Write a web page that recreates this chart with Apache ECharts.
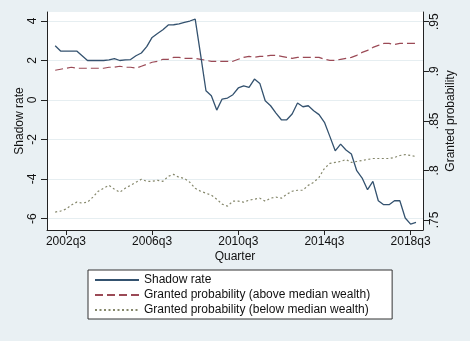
<!DOCTYPE html>
<html>
<head>
<meta charset="utf-8">
<script src="https://cdn.jsdelivr.net/npm/echarts@6/dist/echarts.min.js"></script>
<style>
  html, body { margin: 0; padding: 0; background: #e9f0f3; }
  #chart { width: 470px; height: 341px; }
</style>
</head>
<body>
<div id="chart"></div>
<script>
// Quarterly series, 2002q1 .. 2018q4
const firstYear = 2002;
const firstQuarter = 1;

const shadowRate = [
  2.75, 2.48, 2.48, 2.48, 2.48, 2.24, 2.00, 2.00, 2.00, 2.00,
  2.03, 2.10, 2.00, 2.03, 2.05, 2.24, 2.38, 2.70, 3.17, 3.37,
  3.56, 3.80, 3.81, 3.85, 3.93, 4.00, 4.10, 2.30, 0.47, 0.22,
  -0.51, 0.05, 0.10, 0.27, 0.61, 0.72, 0.64, 1.06, 0.84, -0.04,
  -0.29, -0.66, -1.00, -1.00, -0.71, -0.15, -0.34, -0.29, -0.54, -0.74,
  -1.13, -1.84, -2.57, -2.23, -2.53, -2.73, -3.58, -3.95, -4.54, -4.12,
  -5.10, -5.30, -5.30, -5.10, -5.10, -5.97, -6.28, -6.20
];

const grantedAbove = [
  0.901, 0.902, 0.903, 0.904, 0.903, 0.903, 0.903, 0.903, 0.903, 0.903,
  0.904, 0.904, 0.905, 0.904, 0.904, 0.903, 0.905, 0.907, 0.909, 0.910,
  0.912, 0.912, 0.914, 0.914, 0.913, 0.913, 0.913, 0.912, 0.911, 0.910,
  0.910, 0.910, 0.910, 0.910, 0.912, 0.914, 0.915, 0.914, 0.915, 0.915,
  0.916, 0.916, 0.915, 0.914, 0.913, 0.914, 0.914, 0.914, 0.914, 0.914,
  0.912, 0.911, 0.911, 0.912, 0.913, 0.914, 0.916, 0.919, 0.921, 0.924,
  0.926, 0.928, 0.928, 0.927, 0.928, 0.928, 0.928, 0.928
];

const grantedBelow = [
  0.758, 0.759, 0.761, 0.765, 0.768, 0.767, 0.768, 0.773, 0.779, 0.782,
  0.785, 0.781, 0.778, 0.782, 0.785, 0.788, 0.791, 0.789, 0.789, 0.790,
  0.789, 0.794, 0.796, 0.793, 0.792, 0.788, 0.782, 0.779, 0.777, 0.775,
  0.771, 0.766, 0.764, 0.769, 0.769, 0.768, 0.770, 0.771, 0.772, 0.769,
  0.772, 0.773, 0.772, 0.776, 0.779, 0.780, 0.780, 0.785, 0.788, 0.793,
  0.802, 0.807, 0.808, 0.809, 0.811, 0.808, 0.809, 0.810, 0.811, 0.812,
  0.812, 0.812, 0.812, 0.813, 0.815, 0.816, 0.815, 0.814
];

const xTickLabels = ['2002q3', '2006q3', '2010q3', '2014q3', '2018q3'];
const leftTicks = [-6, -4, -2, 0, 2, 4];
const rightTicks = [0.75, 0.8, 0.85, 0.9, 0.95];

// quarter index (0 = first quarter of the data) <-> "YYYYqN"
function labelToIndex(s) {
  const y = parseInt(s.slice(0, 4), 10);
  const q = parseInt(s.slice(5), 10);
  return (y - firstYear) * 4 + (q - firstQuarter);
}
function indexToLabel(i) {
  const k = Math.round(i) + (firstQuarter - 1);
  return (firstYear + Math.floor(k / 4)) + 'q' + ((k % 4) + 1);
}
const xTickIdx = xTickLabels.map(labelToIndex);
const pairs = arr => arr.map((v, i) => [i, v]);

const font = 'Liberation Sans, Arial, Helvetica, sans-serif';
const txt = { color: '#111', fontFamily: font, fontSize: 12 };
const axisLineStyle = { color: '#222', width: 1 };

const chart = echarts.init(document.getElementById('chart'), null, { renderer: 'canvas' });
chart.setOption({
  backgroundColor: '#e9f0f3',
  animation: false,
  grid: {
    left: 47, right: 47, top: 12, bottom: 111,
    show: true, backgroundColor: '#ffffff', borderWidth: 0,
    containLabel: false
  },
  legend: {
    orient: 'vertical',
    left: 88, top: 270,
    padding: [4, 22, 3, 6],
    itemWidth: 44, itemHeight: 14, itemGap: 3,
    backgroundColor: '#ffffff',
    borderColor: '#333', borderWidth: 1, borderRadius: 0,
    itemStyle: { opacity: 0 },
    textStyle: { ...txt },
    data: [
      'Shadow rate',
      'Granted probability (above median wealth)',
      'Granted probability (below median wealth)'
    ]
  },
  xAxis: {
    type: 'value',
    min: -1.52, max: 68.3,
    name: 'Quarter', nameLocation: 'middle', nameGap: 21, nameMoveOverlap: false,
    nameTextStyle: { ...txt },
    axisLine: { show: true, onZero: false, lineStyle: axisLineStyle },
    axisTick: { show: true, length: 5, lineStyle: axisLineStyle, customValues: xTickIdx },
    axisLabel: { ...txt, margin: 6, customValues: xTickIdx, formatter: v => indexToLabel(v) },
    splitLine: { show: false }
  },
  yAxis: [
    {
      type: 'value', position: 'left',
      min: -6.58, max: 4.456,
      name: 'Shadow rate', nameLocation: 'middle', nameRotate: 90, nameGap: 21,
      nameMoveOverlap: false,
      nameTextStyle: { ...txt },
      axisLine: { show: true, onZero: false, lineStyle: axisLineStyle },
      axisTick: { show: true, length: 6, lineStyle: axisLineStyle, customValues: leftTicks },
      axisLabel: { ...txt, rotate: 90, margin: 8, customValues: leftTicks,
        formatter: v => String(Math.round(v)) },
      splitLine: { show: true, lineStyle: { color: '#e6eef1', width: 1 } }
    },
    {
      type: 'value', position: 'right',
      min: 0.7399, max: 0.9597,
      name: 'Granted probability', nameLocation: 'middle', nameRotate: 90, nameGap: 22,
      nameMoveOverlap: false,
      nameTextStyle: { ...txt },
      axisLine: { show: true, onZero: false, lineStyle: axisLineStyle },
      axisTick: { show: true, length: 6, lineStyle: axisLineStyle, customValues: rightTicks },
      axisLabel: { ...txt, rotate: 90, margin: 6, customValues: rightTicks,
        formatter: v => String(+v.toFixed(2)).replace(/^0/, '') },
      splitLine: { show: false }
    }
  ],
  series: [
    {
      name: 'Shadow rate', type: 'line', yAxisIndex: 0,
      data: pairs(shadowRate), symbol: 'none', z: 3,
      lineStyle: { color: '#34526f', width: 1.3 },
      itemStyle: { color: '#34526f' }
    },
    {
      name: 'Granted probability (above median wealth)', type: 'line', yAxisIndex: 1,
      data: pairs(grantedAbove), symbol: 'none', z: 2,
      lineStyle: { color: '#9b4a56', width: 1.2, type: [8, 4] },
      itemStyle: { color: '#9b4a56' }
    },
    {
      name: 'Granted probability (below median wealth)', type: 'line', yAxisIndex: 1,
      data: pairs(grantedBelow), symbol: 'none', z: 2,
      lineStyle: { color: '#85876b', width: 1.2, type: [2, 2.5] },
      itemStyle: { color: '#85876b' }
    }
  ]
});
</script>
</body>
</html>
